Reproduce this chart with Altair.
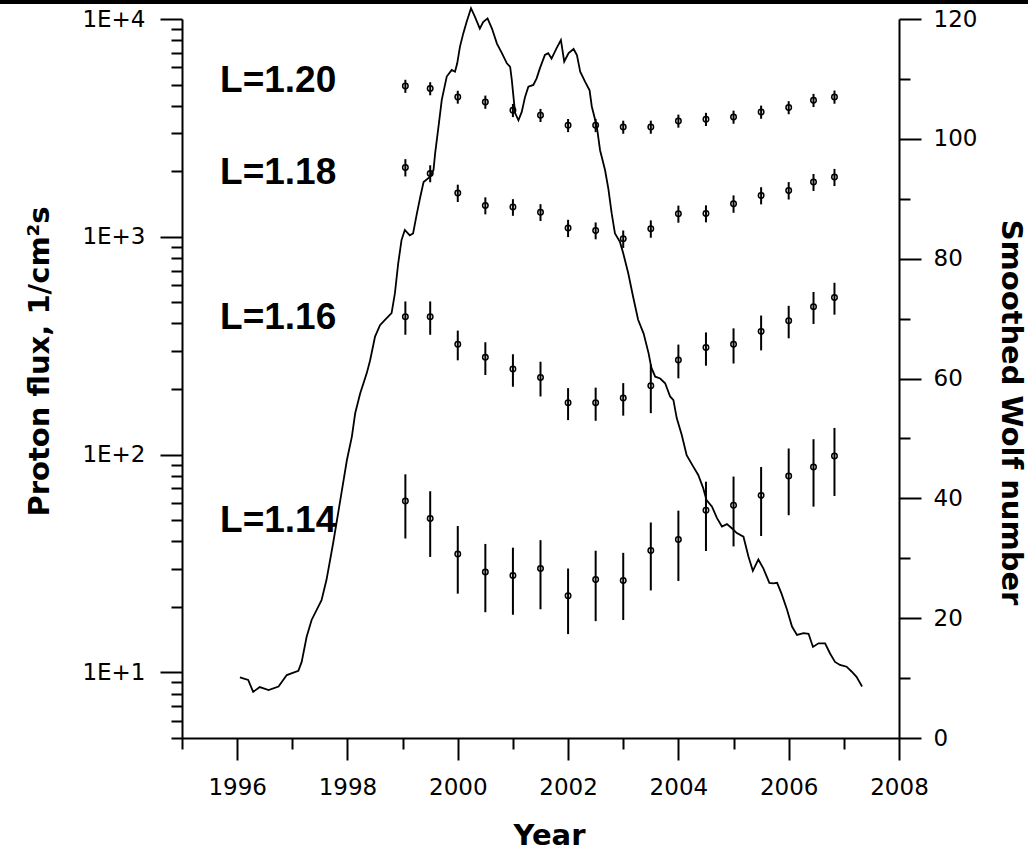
import altair as alt
import pandas as pd

# ---------------- data ----------------
years = [1999.05, 1999.5, 2000.0, 2000.5, 2001.0, 2001.5, 2002.0, 2002.5, 2003.0,
         2003.5, 2004.0, 2004.5, 2005.0, 2005.5, 2006.0, 2006.45, 2006.83]

flux_120 = [4920, 4795, 4385, 4160, 3810, 3615, 3250, 3250, 3193, 3193, 3405, 3467, 3550, 3743, 3924, 4237, 4389]
err_120 = [340, 330, 300, 290, 265, 250, 225, 225, 220, 220, 235, 240, 245, 260, 270, 295, 305]
flux_118 = [2083, 1955, 1590, 1393, 1369, 1297, 1097, 1069, 979, 1090, 1276, 1280, 1419, 1549, 1633, 1783, 1880]
err_118 = [190, 175, 145, 125, 120, 115, 100, 95, 90, 100, 115, 115, 130, 140, 150, 160, 170]
flux_116 = [430, 430, 321, 280, 247, 226, 173, 173, 182, 207, 272, 310, 321, 368, 412, 478, 527]
err_116 = [75, 75, 50, 48, 42, 41, 29, 30, 31, 52, 48, 54, 59, 67, 70, 80, 88]
flux_114 = [61.2, 50.9, 35.0, 28.9, 27.9, 30.0, 22.5, 26.7, 26.4, 36.3, 40.8, 55.6, 58.6, 65.0, 79.7, 87.7, 98.6]
err_114 = [20, 17, 12, 10, 9.5, 10.5, 7.5, 9.5, 9, 12.5, 14.5, 19.5, 20.7, 22.7, 27, 30, 34]

series_names = ["L=1.20", "L=1.18", "L=1.16", "L=1.14"]
label_year = [1995.69, 1995.69, 1995.69, 1995.69]
label_flux = [4628, 1753, 377, 44.2]

wolf_year = [1996.05, 1996.20, 1996.29, 1996.41, 1996.57, 1996.75, 1996.90, 1997.11, 1997.17, 1997.26,
             1997.35, 1997.53, 1997.62, 1997.74, 1997.87, 1997.99, 1998.08, 1998.14, 1998.23, 1998.35,
             1998.41, 1998.50, 1998.59, 1998.68, 1998.80, 1998.86, 1998.92, 1998.98, 1999.04, 1999.13,
             1999.19, 1999.26, 1999.32, 1999.38, 1999.50, 1999.56, 1999.59, 1999.65, 1999.71, 1999.80,
             1999.89, 1999.95, 1999.99, 2000.04, 2000.10, 2000.16, 2000.24, 2000.31, 2000.40, 2000.46,
             2000.54, 2000.62, 2000.71, 2000.80, 2000.89, 2000.95, 2000.98, 2001.01, 2001.04, 2001.10,
             2001.16, 2001.22, 2001.28, 2001.37, 2001.43, 2001.49, 2001.58, 2001.64, 2001.70, 2001.79,
             2001.87, 2001.93, 2002.01, 2002.10, 2002.16, 2002.22, 2002.31, 2002.39, 2002.43, 2002.52,
             2002.58, 2002.67, 2002.73, 2002.79, 2002.85, 2002.94, 2003.00, 2003.09, 2003.18, 2003.27,
             2003.37, 2003.46, 2003.51, 2003.58, 2003.67, 2003.76, 2003.85, 2003.91, 2003.97, 2004.06,
             2004.15, 2004.27, 2004.36, 2004.45, 2004.51, 2004.61, 2004.70, 2004.79, 2004.88, 2004.97,
             2005.06, 2005.18, 2005.27, 2005.35, 2005.45, 2005.54, 2005.65, 2005.72, 2005.79, 2005.87,
             2005.97, 2006.06, 2006.15, 2006.27, 2006.36, 2006.44, 2006.54, 2006.66, 2006.75, 2006.84,
             2006.93, 2007.05, 2007.14, 2007.23, 2007.33]
wolf_val = [10.1, 9.7, 7.7, 8.5, 8.0, 8.6, 10.5, 11.2, 12.7, 16.9,
            19.7, 23.0, 26.4, 32.5, 39.7, 46.4, 50.3, 54.2, 57.5, 60.9,
            63.0, 67.0, 68.9, 69.8, 70.9, 74.2, 79.2, 83.1, 84.8, 83.9,
            84.2, 87.6, 90.3, 92.8, 93.7, 94.8, 97.6, 102.0, 106.5, 110.4,
            111.5, 111.2, 112.6, 115.4, 117.6, 119.5, 121.8, 120.4, 118.4, 119.5,
            120.1, 118.4, 115.9, 114.3, 112.6, 112.0, 109.8, 107.0, 104.3, 103.1,
            104.5, 107.0, 108.7, 109.0, 110.1, 111.8, 114.0, 114.3, 113.4, 115.1,
            116.5, 112.9, 114.3, 115.0, 114.0, 111.2, 109.5, 108.1, 105.4, 102.1,
            98.1, 94.8, 91.7, 87.6, 84.2, 82.8, 80.9, 77.6, 73.6, 69.8,
            67.5, 64.2, 61.8, 60.3, 60.0, 59.2, 57.0, 56.4, 53.4, 50.6,
            47.2, 45.3, 43.9, 41.7, 39.7, 38.6, 36.7, 35.3, 35.7, 35.0,
            34.2, 33.6, 30.3, 27.9, 29.8, 28.3, 25.9, 25.8, 25.9, 24.1,
            21.4, 18.6, 17.2, 17.5, 17.4, 15.2, 15.8, 15.8, 14.1, 12.7,
            12.2, 11.9, 11.1, 10.2, 8.6]

x_ticks = list(range(1995, 2009))
log_ticks = [5, 6, 7, 8, 9, 10, 20, 30, 40, 50, 60, 70, 80, 90, 100, 200, 300, 400, 500, 600,
             700, 800, 900, 1000, 2000, 3000, 4000, 5000, 6000, 7000, 8000, 9000, 10000]
wolf_ticks = [0, 10, 20, 30, 40, 50, 60, 70, 80, 90, 100, 110, 120]

# ---------------- tables ----------------
rows = []
for name, fl, er in zip(series_names, [flux_120, flux_118, flux_116, flux_114],
                        [err_120, err_118, err_116, err_114]):
    for yv, v, e in zip(years, fl, er):
        rows.append({"year": yv, "flux": v, "lo": v - e, "hi": v + e, "series": name})
pts = pd.DataFrame(rows)
labels = pd.DataFrame({"year": label_year, "ty": label_flux, "txt": series_names})
wolf = pd.DataFrame({"year": wolf_year, "wolf": wolf_val})

# ---------------- axes ----------------
FONT = "DejaVu Sans"
common = dict(domainColor="black", domainWidth=2, tickColor="black", tickWidth=2,
              labelColor="black", labelFont=FONT, labelFontSize=23, grid=False,
              labelOverlap=False, labelFlush=False, titleColor="black", titleFont=FONT,
              titleFontSize=29, titleFontWeight="bold")

x_axis = alt.Axis(
    values=x_ticks, format="d", orient="bottom",
    labelExpr="datum.value % 2 == 0 ? datum.label : ''",
    tickSize={"condition": {"test": "datum.value % 2 == 0", "value": 22}, "value": 11},
    labelPadding=16, titleX=367, titleY=106, titleBaseline="alphabetic", titleAlign="center",
    **common)
x_scale = alt.Scale(domain=[1995, 2008], nice=False, zero=False)

major_log = "datum.value == 10 || datum.value == 100 || datum.value == 1000 || datum.value == 10000"
left_axis = alt.Axis(
    values=log_ticks, orient="left",
    labelExpr=("datum.value == 10 ? '1E+1' : datum.value == 100 ? '1E+2' : "
               "datum.value == 1000 ? '1E+3' : datum.value == 10000 ? '1E+4' : ''"),
    tickSize={"condition": {"test": major_log, "value": 22}, "value": 11},
    labelPadding=15, titleX=-134, titleY=342, titleAngle=-90, titleBaseline="alphabetic",
    titleAlign="center", **common)
left_scale = alt.Scale(type="log", domain=[5, 10000], nice=False)

right_axis = alt.Axis(
    values=wolf_ticks, orient="right", format="d",
    labelExpr="datum.value % 20 == 0 ? datum.label : ''",
    tickSize={"condition": {"test": "datum.value % 20 == 0", "value": 22}, "value": 11},
    labelPadding=12, titleX=102, titleY=393, titleAngle=90, titleBaseline="alphabetic",
    titleAlign="center", **common)
right_scale = alt.Scale(domain=[0, 120], nice=False, zero=True)


def X(field="year"):
    return alt.X(f"{field}:Q", scale=x_scale, axis=x_axis, title="Year")


def YL(field):
    return alt.Y(f"{field}:Q", scale=left_scale, axis=left_axis, title="Proton flux, 1/cm²s")


bars = alt.Chart(pts).mark_rule(color="black", strokeWidth=2).encode(
    x=X(), y=YL("lo"), y2="hi:Q")
points = alt.Chart(pts).mark_point(shape="circle", filled=False, color="black", size=30,
                                   strokeWidth=1.5, opacity=1).encode(x=X(), y=YL("flux"))
texts = alt.Chart(labels).mark_text(font="Liberation Sans", fontWeight="bold", fontSize=37,
                                    align="left", baseline="alphabetic", color="black").encode(
    x=X(), y=YL("ty"), text="txt:N")

left = alt.layer(bars, points, texts)

wolf_line = alt.Chart(wolf).mark_line(color="black", strokeWidth=1.8).encode(
    x=X(), y=alt.Y("wolf:Q", scale=right_scale, axis=right_axis, title="Smoothed Wolf number"))

band = alt.Chart(pd.DataFrame({"a": [0]})).mark_rect(color="black").encode(
    x=alt.value(-182), x2=alt.value(846), y=alt.value(-19), y2=alt.value(-15))

chart = alt.layer(left, wolf_line, band).resolve_scale(y="independent").properties(
    width=717, height=719,
    padding={"left": 182, "top": 19, "right": 129, "bottom": 115},
    autosize=alt.AutoSizeParams(type="none"),
    background="white",
).configure_view(stroke=None)

chart.save("out.html", embed_options={"renderer": "svg", "actions": False})
